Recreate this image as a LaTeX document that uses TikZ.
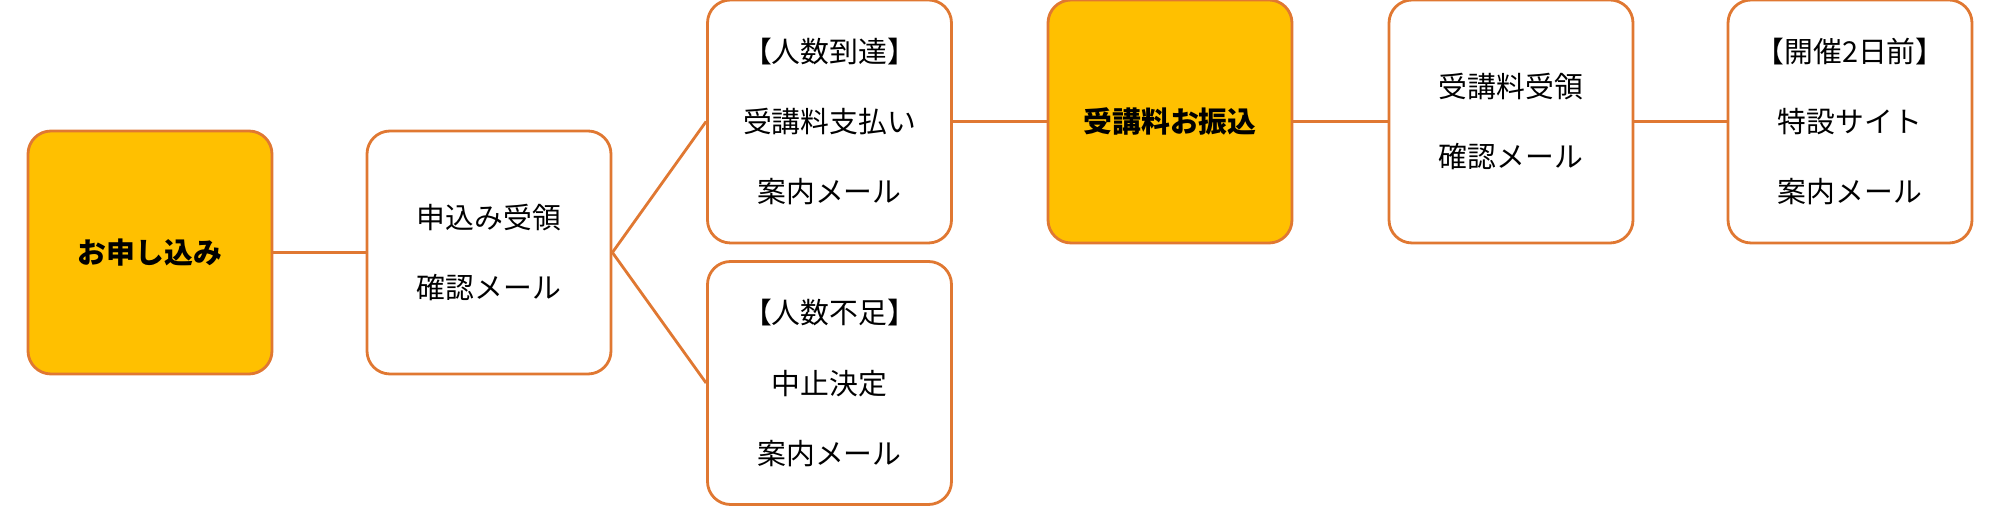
\documentclass[tikz,border=0pt]{standalone}
\usepackage{fontspec}
\setmainfont{Noto Sans CJK JP}
\usepackage{tikz}
\usetikzlibrary{positioning}
\definecolor{flowyellow}{RGB}{255,192,0}
\definecolor{floworange}{RGB}{224,120,50}

\begin{document}
\begin{tikzpicture}[
  font=\fontsize{8.2}{20}\selectfont,
  box/.style={draw=floworange,line width=0.8pt,rounded corners=0.23cm,
    minimum width=2.44cm,minimum height=2.43cm,align=center,inner sep=2pt},
  plain/.style={box,fill=white},
  key/.style={box,fill=flowyellow,font=\fontsize{8.2}{20}\selectfont\bfseries},
  link/.style={draw=floworange,line width=0.8pt}
]
  \useasboundingbox (0,0) rectangle (20,-5.12);
  \node[key] (apply) at (1.50,-2.525) {お申し込み};
  \node[plain] (receipt) at (4.89,-2.525) {申込み受領\\確認メール};
  \node[plain] (reached) at (8.295,-1.215) {【人数到達】\\受講料支払い\\案内メール};
  \node[plain] (short) at (8.295,-3.83) {【人数不足】\\中止決定\\案内メール};
  \node[key] (payment) at (11.70,-1.215) {受講料お振込};
  \node[plain] (paid) at (15.11,-1.215) {受講料受領\\確認メール};
  \node[plain] (before) at (18.50,-1.215) {【開催2日前】\\特設サイト\\案内メール};

  \draw[link] (apply) -- (receipt);
  \draw[link] (receipt.east) -- (reached.west);
  \draw[link] (receipt.east) -- (short.west);
  \draw[link] (reached) -- (payment);
  \draw[link] (payment) -- (paid);
  \draw[link] (paid) -- (before);
\end{tikzpicture}
\end{document}
